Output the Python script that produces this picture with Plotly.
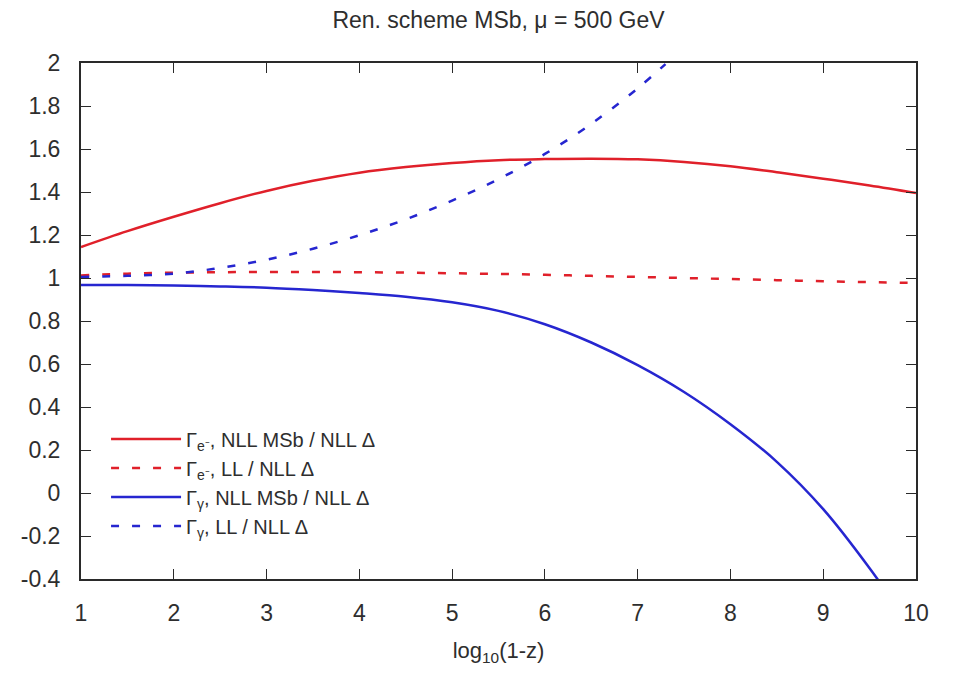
import plotly.graph_objects as go

# ---- data ----
x_grid = [1, 1.5, 2, 2.5, 3, 3.5, 4, 4.5, 5, 5.5, 6, 6.5, 7, 7.5, 8, 8.5, 9, 9.5, 10]

e_nll_msb = [1.144, 1.218, 1.285, 1.348, 1.405, 1.452, 1.490, 1.516, 1.535, 1.548,
             1.553, 1.555, 1.552, 1.540, 1.520, 1.492, 1.462, 1.430, 1.395]
e_ll = [1.012, 1.020, 1.025, 1.027, 1.028, 1.028, 1.027, 1.025, 1.022, 1.019,
        1.015, 1.010, 1.005, 1.000, 0.995, 0.990, 0.985, 0.981, 0.977]
g_nll_msb = [0.968, 0.967, 0.965, 0.961, 0.955, 0.944, 0.930, 0.913, 0.887, 0.847,
             0.785, 0.700, 0.595, 0.470, 0.320, 0.145, -0.075, -0.350, -0.660]
g_ll_x = [1, 1.5, 2, 2.5, 3, 3.5, 4, 4.5, 5, 5.5, 6, 6.5, 7, 7.3]
g_ll = [1.005, 1.010, 1.020, 1.047, 1.085, 1.136, 1.199, 1.273, 1.360, 1.460,
        1.577, 1.717, 1.882, 1.995]

names = ["Γ<sub>e⁻</sub>, NLL MSb / NLL Δ",
         "Γ<sub>e⁻</sub>, LL / NLL Δ",
         "Γ<sub>γ</sub>, NLL MSb / NLL Δ",
         "Γ<sub>γ</sub>, LL / NLL Δ"]

x_tickvals = [1, 2, 3, 4, 5, 6, 7, 8, 9, 10]
x_ticktext = ["1", "2", "3", "4", "5", "6", "7", "8", "9", "10"]
y_tickvals = [2, 1.8, 1.6, 1.4, 1.2, 1, 0.8, 0.6, 0.4, 0.2, 0, -0.2, -0.4]
y_ticktext = ["2", "1.8", "1.6", "1.4", "1.2", "1", "0.8", "0.6", "0.4", "0.2", "0", "-0.2", "-0.4"]

title_text = "Ren. scheme MSb, μ = 500 GeV"
x_title = "log<sub>10</sub>(1-z)"

RED = "#e0202a"
BLUE = "#2626d0"
FONT = "Liberation Sans, Arial, sans-serif"
TXT = "#2e2e2e"

fig = go.Figure()
fig.add_trace(go.Scatter(x=x_grid, y=e_nll_msb, mode="lines", name=names[0],
                         line=dict(color=RED, width=2.5, shape="spline")))
fig.add_trace(go.Scatter(x=x_grid, y=e_ll, mode="lines", name=names[1],
                         line=dict(color=RED, width=2.5, dash="8px,13px", shape="spline")))
fig.add_trace(go.Scatter(x=x_grid, y=g_nll_msb, mode="lines", name=names[2],
                         line=dict(color=BLUE, width=2.5, shape="spline")))
fig.add_trace(go.Scatter(x=g_ll_x, y=g_ll, mode="lines", name=names[3],
                         line=dict(color=BLUE, width=2.5, dash="8px,13px", shape="spline")))

axis_common = dict(
    showgrid=False, zeroline=False,
    showline=True, linecolor="#2a2a2a", linewidth=2,
    mirror="ticks", ticks="inside", ticklen=10, tickwidth=1.2, tickcolor="#2a2a2a",
    tickfont=dict(family=FONT, size=23, color=TXT),
)

fig.update_xaxes(range=[1, 10], tickvals=x_tickvals, ticktext=x_ticktext,
                 ticklabelstandoff=12,
                 title=dict(text=x_title, font=dict(family=FONT, size=22, color=TXT),
                            standoff=18),
                 **axis_common)
fig.update_yaxes(range=[-0.4, 2], tickvals=y_tickvals, ticktext=y_ticktext,
                 ticklabelstandoff=14, **axis_common)

fig.update_layout(
    width=954, height=673,
    margin=dict(l=81, r=38, t=63, b=94),
    paper_bgcolor="white", plot_bgcolor="white",
    title=dict(text=title_text, x=0.5, xref="paper", xanchor="center",
               y=0.97, yref="container", yanchor="middle",
               font=dict(family=FONT, size=23, color=TXT)),
    showlegend=True,
    legend=dict(x=0.03, y=0.065, xanchor="left", yanchor="bottom",
                bgcolor="rgba(0,0,0,0)", borderwidth=0, itemwidth=70,
                font=dict(family=FONT, size=20, color=TXT),
                tracegroupgap=0),
)

fig.write_html("out.html")
